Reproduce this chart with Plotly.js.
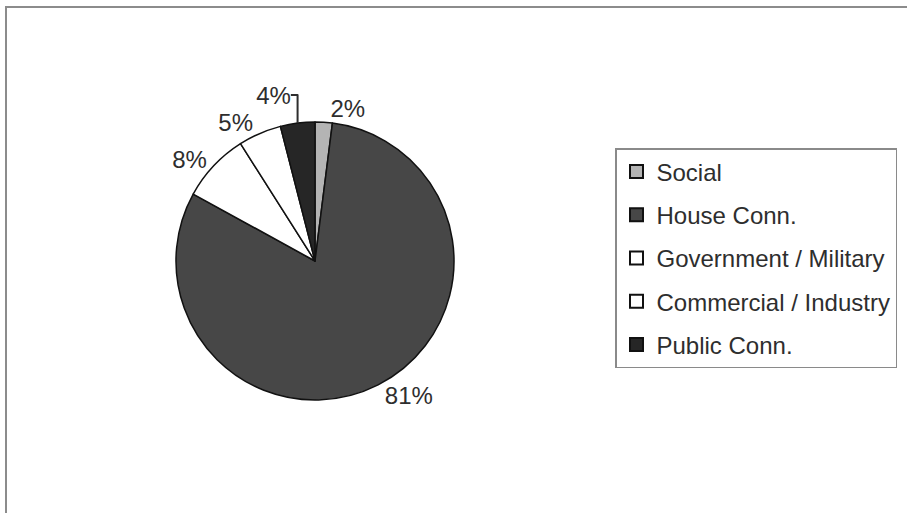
<!DOCTYPE html>
<html>
<head>
<meta charset="utf-8">
<script src="https://cdn.plot.ly/plotly-3.0.1.min.js"></script>
<style>html,body{margin:0;padding:0;background:#fff;}#chart{width:907px;height:513px;}</style>
</head>
<body>
<div id="chart"></div>
<script>
const categories = ["Social", "House Conn.", "Government / Military", "Commercial / Industry", "Public Conn."];
const shares = [2, 81, 8, 5, 4];
const sliceColors = ["#b4b4b4", "#474747", "#ffffff", "#ffffff", "#262626"];

const W = 907, H = 513;
const textFont = {family: "Arial, 'Liberation Sans', sans-serif", size: 24, color: "#2e2e2e"};

const pie = {
  type: "pie",
  labels: categories,
  values: shares,
  sort: false,
  direction: "clockwise",
  rotation: 0,
  marker: {colors: sliceColors, line: {color: "#111111", width: 1.5}},
  textinfo: "percent",
  textposition: "outside",
  outsidetextfont: textFont,
  showlegend: false,
  hoverinfo: "none",
  domain: {x: [(315 - 139) / W, (315 + 139) / W], y: [(H - 261 - 139) / H, (H - 261 + 139) / H]}
};

const legendTraces = categories.map((c, i) => ({
  type: "scatter",
  mode: "markers",
  x: [null], y: [null],
  name: c,
  legendgroup: "g" + i,
  marker: {symbol: "square", size: 13, color: sliceColors[i], line: {color: "#111111", width: 2}},
  hoverinfo: "none"
}));

const layout = {
  width: W, height: H,
  margin: {l: 0, r: 0, t: 0, b: 0},
  paper_bgcolor: "#ffffff",
  plot_bgcolor: "#ffffff",
  font: textFont,
  xaxis: {visible: false, domain: [0.98, 1]},
  yaxis: {visible: false, domain: [0.98, 1]},
  showlegend: true,
  legend: {
    x: 615 / W, y: 1 - 148 / H, xanchor: "left", yanchor: "top",
    bordercolor: "#8a8a8a", borderwidth: 1.5, bgcolor: "#ffffff",
    font: textFont, traceorder: "grouped", tracegroupgap: 9,
    itemclick: false, itemdoubleclick: false
  },
  shapes: [{
    type: "rect", xref: "paper", yref: "paper",
    x0: 6 / W, x1: 1.05, y0: -0.05, y1: 1 - 7 / H,
    line: {color: "#8c8c8c", width: 2}, fillcolor: "rgba(0,0,0,0)", layer: "below"
  }]
};

Plotly.newPlot("chart", [pie].concat(legendTraces), layout, {staticPlot: true, displayModeBar: false});
</script>
</body>
</html>
